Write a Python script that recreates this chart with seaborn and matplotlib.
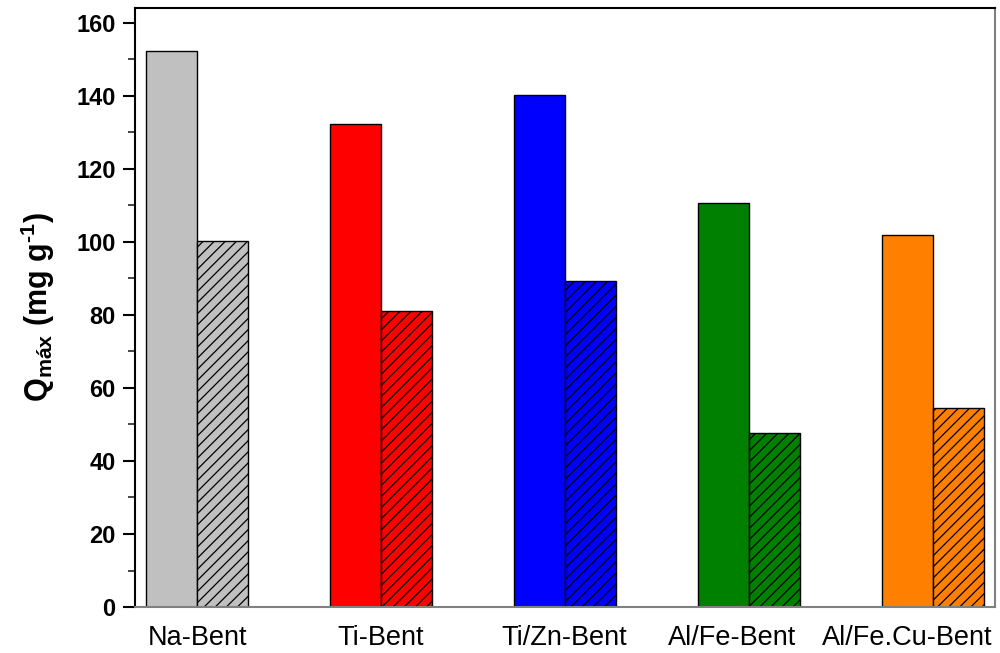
import matplotlib
matplotlib.use("Agg")
import matplotlib.pyplot as plt
import seaborn as sns
import pandas as pd
from matplotlib.ticker import MultipleLocator

categories = ["Na-Bent", "Ti-Bent", "Ti/Zn-Bent", "Al/Fe-Bent", "Al/Fe.Cu-Bent"]
series_names = ["solid", "hatched"]
values_solid = [152.2, 132.3, 140.3, 110.7, 101.9]
values_hatched = [100.1, 81.1, 89.3, 47.7, 54.4]
colors = ["#C0C0C0", "#FF0000", "#0000FF", "#008000", "#FF8000"]
label_positions = [0.0, 1.0, 1.995, 2.91, 3.86]

sns.set_theme(style="white")
plt.rcParams["font.family"] = ["Liberation Sans", "DejaVu Sans"]
plt.rcParams["mathtext.fontset"] = "custom"
plt.rcParams["mathtext.rm"] = "Liberation Sans:bold"
plt.rcParams["mathtext.bf"] = "Liberation Sans:bold"
plt.rcParams["mathtext.default"] = "bf"
plt.rcParams["hatch.linewidth"] = 0.9

df = pd.DataFrame({
    "cat": categories * 2,
    "series": [series_names[0]] * len(categories) + [series_names[1]] * len(categories),
    "val": values_solid + values_hatched,
})

fig = plt.figure(figsize=(10, 6.53), dpi=100)
ax = fig.add_axes([0.135, 0.0704, 0.86, 0.9173])

sns.barplot(data=df, x="cat", y="val", hue="series", hue_order=series_names,
            order=categories, width=0.554, gap=0, ax=ax, legend=False,
            edgecolor="black", linewidth=1.0, saturation=1)

for ci, cont in enumerate(ax.containers):
    for bi, patch in enumerate(cont.patches):
        patch.set_facecolor(colors[bi])
        patch.set_edgecolor("black")
        if ci == 1:
            patch.set_hatch("///")

ax.set_xlim(-0.337, 4.337)
ax.set_ylim(0, 164)
ax.set_xticks(label_positions)
ax.set_xticklabels(categories)
ax.yaxis.set_major_locator(MultipleLocator(20))
ax.yaxis.set_minor_locator(MultipleLocator(10))
ax.tick_params(axis="y", which="major", direction="out", length=9, width=1.5,
               left=True, labelsize=17, colors="black", pad=5)
ax.tick_params(axis="y", which="minor", direction="out", length=5, width=1.2, left=True)
ax.tick_params(axis="x", which="both", length=0, labelsize=19.5, pad=13, labelcolor="black")
for lab in ax.get_yticklabels():
    lab.set_fontweight("bold")

ax.set_xlabel("")
ax.set_ylabel(r"Q$_{máx}$ (mg g$^{\text{-1}}$)", fontsize=22, fontweight="bold",
              labelpad=14, color="black")

ax.spines["left"].set_color("black")
ax.spines["left"].set_linewidth(1.5)
ax.spines["top"].set_color("black")
ax.spines["top"].set_linewidth(1.5)
ax.spines["bottom"].set_color("#808080")
ax.spines["bottom"].set_linewidth(1.5)
ax.spines["right"].set_color("#808080")
ax.spines["right"].set_linewidth(1.5)
for s in ax.spines.values():
    s.set_visible(True)

fig.savefig("out.png", dpi=100)
